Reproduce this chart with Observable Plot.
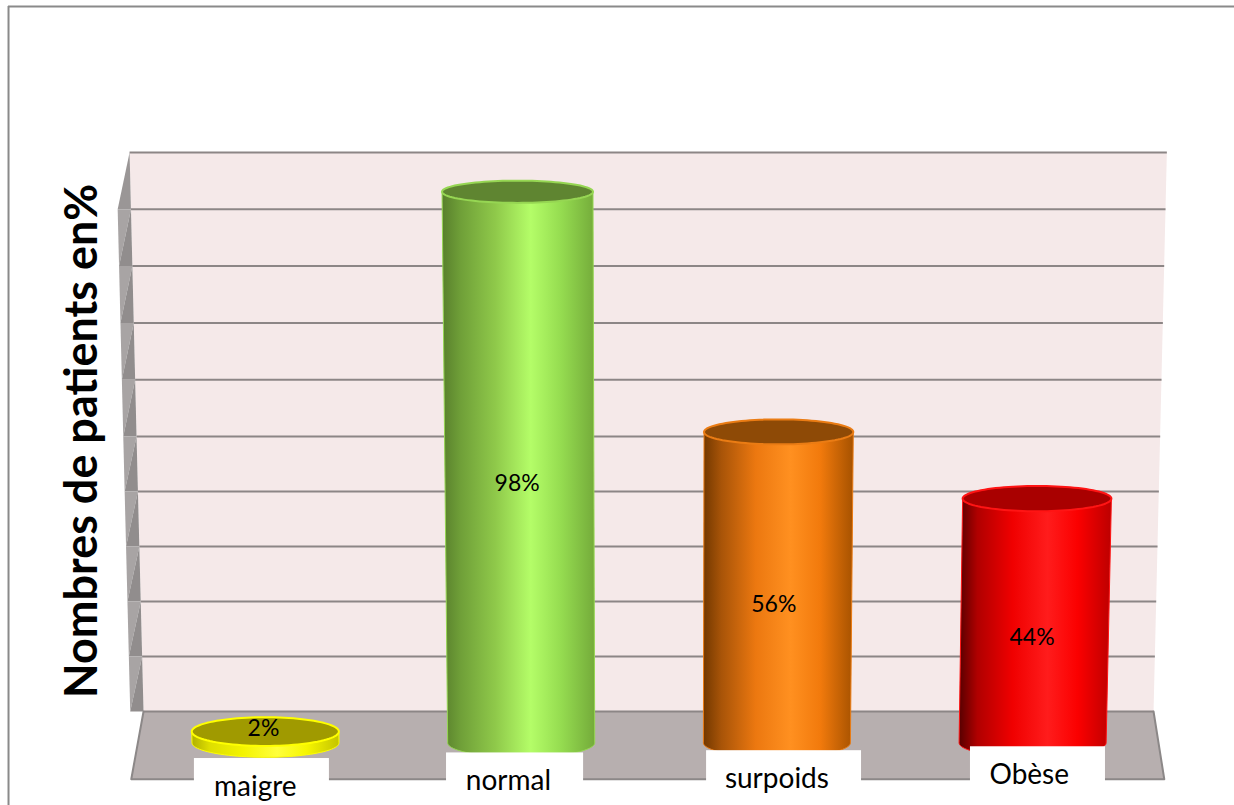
<!DOCTYPE html>
<html lang="fr">
<head>
<meta charset="utf-8">
<title>Nombres de patients en%</title>
<script src="https://cdn.jsdelivr.net/npm/d3@7"></script>
<script src="https://cdn.jsdelivr.net/npm/@observablehq/plot@0.6"></script>
<style>
  html, body { margin: 0; padding: 0; background: #fff; overflow: hidden; }
  svg { display: block; }
</style>
</head>
<body>
<div id="chart"></div>
<script>
// ---- data ----
const categories = ["maigre", "normal", "surpoids", "Obèse"];
const values = [2, 98, 56, 44];
const valueLabels = ["2%", "98%", "56%", "44%"];
const gridValues = [0, 10, 20, 30, 40, 50, 60, 70, 80, 90, 100];
const yTitle = "Nombres de patients en%";

// ---- styles ----
const topColors = ["#a09a00", "#5f8531", "#8e4a06", "#a90000"];
const rimColors = ["#ffff00", "#96d653", "#ea7c14", "#ff1414"];
const stopOffsets = [0, 0.12, 0.35, 0.58, 0.78, 1];
const bodyStops = [
  ["#b0b000", "#dede00", "#f4f400", "#ffff3c", "#f6f600", "#c4c400"],
  ["#587f2c", "#6f9f38", "#8fc94a", "#b4fd68", "#95dc50", "#74ab3a"],
  ["#723800", "#a85408", "#ec7810", "#ff9020", "#f27a0c", "#a65200"],
  ["#580000", "#b00000", "#f00000", "#ff1c1c", "#fb0000", "#bc0000"]
];

// ---- layout, in scale units (x: bar slots, y: percent on the back wall) ----
const floorV = -5.6;          // bars stand this far in front of the wall foot
const barScale = 1.007;       // bars are nearer than the wall, so slightly taller
const vanishU = 1.545;        // perspective centre
const lean = 0.00027;         // perspective lean per percent
const barRx = 0.2875;
const wallU = [-0.477, 3.473];
const frontU = [-0.525, 3.515];
const frontV = -12.1;
const sideDepth = -0.052;
const frameU = -1.005, frameV = 125.7;
const titlePos = {u: -0.717, v: 49.2};
const labelShiftV = [0.6, -2, -3, -3];
const labelShiftU = [-0.008, -0.016, -0.012, -0.002];
const boxU = [[-0.278, 0.25], [0.708, 1.244], [1.725, 2.331], [2.757, 3.285]];
const boxV = [-8.4, -7.4, -7.0, -6.3];
const catU = [-0.04, 0.95, 2.0, 2.987];
const catV = [-13.5, -12.4, -12.1, -11.4];

const project = (u, h) => u + (u - vanishU) * lean * h;
const ryAt = (v) => (11 + (92 - v) * 0.035) / 5.6;

function ellipsePts(i, h, from, to, n) {
  const v = floorV + h * barScale, rx = barRx * (1 + lean * h), ry = ryAt(v), c = project(i, h), out = [];
  for (let k = 0; k <= n; k++) {
    const a = n === 0 ? from : from + (to - from) * k / n;
    out.push({u: c + rx * Math.cos(a), v: v + ry * Math.sin(a)});
  }
  return out;
}
const bodyPts = (i, h) => [
  ...ellipsePts(i, h, Math.PI, Math.PI, 0),
  ...ellipsePts(i, 0, Math.PI, 2 * Math.PI, 48),
  ...ellipsePts(i, h, 0, 0, 0)
];
const topPts = (i, h) => ellipsePts(i, h, 0, 2 * Math.PI, 96);

const poly = (pts, o) => Plot.line(pts, {x: "u", y: "v", curve: "linear", ...o});

// side wall facets
const outerAt = (g) => ({u: project(wallU[0], g) + sideDepth, v: g});
const innerAt = (g) => ({u: project(wallU[0], g), v: g});
const sideFacets = [];
for (let g = 100; g > 0; g -= 10) {
  if (g === 100) {
    sideFacets.push(poly([innerAt(100), outerAt(90), innerAt(90)], {fill: "#9a9696"}));
  } else {
    sideFacets.push(poly([innerAt(g), outerAt(g), outerAt(g - 10)], {fill: "#a8a4a4"}));
    sideFacets.push(poly([innerAt(g), outerAt(g - 10), innerAt(g - 10)], {fill: "#918d8d"}));
  }
}

const defs = () => {
  const d = d3.create("svg:defs");
  bodyStops.forEach((stops, i) => {
    const g = d.append("linearGradient").attr("id", "bar" + i)
      .attr("x1", 0).attr("x2", 1).attr("y1", 0).attr("y2", 0);
    stops.forEach((c, j) => g.append("stop").attr("offset", stopOffsets[j]).attr("stop-color", c));
  });
  return d.node();
};

const barMarks = values.flatMap((h, i) => [
  poly(bodyPts(i, h), {fill: `url(#bar${i})`, stroke: rimColors[i], strokeWidth: 1}),
  poly(topPts(i, h), {fill: topColors[i], stroke: rimColors[i], strokeWidth: 2})
]);

const rows = categories.map((c, i) => ({
  c, i, value: values[i], label: valueLabels[i],
  box: boxU[i], boxV: boxV[i],
  lu: i + labelShiftU[i], lv: floorV + values[i] / 2 + labelShiftV[i],
  cu: catU[i], cv: catV[i]
}));
// the small bar carries its label on its top face
rows[0].lv = floorV + values[0] + labelShiftV[0];

const fontFamily = "Lato, Carlito, Calibri, sans-serif";

const chart = Plot.plot({
  width: 1234,
  height: 805,
  margin: 0,
  style: {background: "#fff", fontFamily, overflow: "hidden"},
  x: {type: "linear", domain: [-265 / 255.7, (1234 - 265) / 255.7], range: [0, 1234], axis: null},
  y: {type: "linear", domain: [-16.79, 0, 50, 100, 126.76], range: [805, 711, 436, 152, 0], axis: null},
  marks: [
    defs,
    // chart frame
    Plot.ruleY([frameV], {x1: frameU, x2: 4.8, stroke: "#8a8a8a", strokeWidth: 2}),
    Plot.ruleX([frameU], {y1: -16.79, y2: frameV, stroke: "#8a8a8a", strokeWidth: 2}),
    // back wall
    poly([
      {u: project(wallU[0], 100), v: 100}, {u: project(wallU[1], 100), v: 100},
      {u: wallU[1], v: 0}, {u: wallU[0], v: 0}
    ], {fill: "#f5e9e9"}),
    // side wall
    ...sideFacets,
    // floor
    poly([
      {u: wallU[0], v: 0}, {u: wallU[1], v: 0},
      {u: frontU[1], v: frontV}, {u: frontU[0], v: frontV}
    ], {fill: "#b7afaf"}),
    poly([
      {u: wallU[0], v: 0}, {u: frontU[0], v: frontV},
      {u: frontU[1], v: frontV}, {u: wallU[1], v: 0}
    ], {stroke: "#8c8888", strokeWidth: 2}),
    // grid lines
    Plot.link(gridValues, {
      x1: (g) => project(wallU[0], g), x2: (g) => project(wallU[1], g),
      y1: (g) => g, y2: (g) => g, stroke: "#8c8686", strokeWidth: 2
    }),
    // cylinders
    ...barMarks,
    // white label boxes
    Plot.rect(rows, {
      x1: (d) => d.box[0], x2: (d) => d.box[1],
      y1: -16.79, y2: "boxV", fill: "#fff"
    }),
    // value labels
    Plot.text(rows, {x: "lu", y: "lv", text: "label", fontSize: 23, fill: "#000", fontFamily}),
    // category labels
    Plot.text(rows, {x: "cu", y: "cv", text: "c", fontSize: 28, fill: "#000", fontFamily}),
    // vertical title
    Plot.text([yTitle], {
      x: titlePos.u, y: titlePos.v, text: (d) => d, rotate: -90,
      fontSize: 45, fontWeight: 700, fill: "#000", fontFamily
    })
  ]
});
document.getElementById("chart").append(chart);
</script>
</body>
</html>
